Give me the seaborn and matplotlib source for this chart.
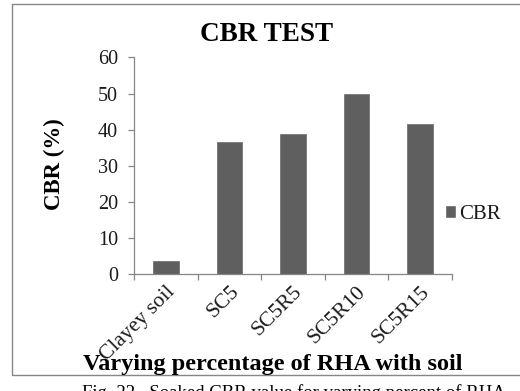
import matplotlib
matplotlib.use("Agg")
import matplotlib.pyplot as plt
from matplotlib.patches import Rectangle
from matplotlib.ticker import FixedLocator
import seaborn as sns
import pandas as pd

samples = ["Clayey soil", "SC5", "SC5R5", "SC5R10", "SC5R15"]
cbr_values = [3.6, 36.5, 38.7, 50.0, 41.7]
y_ticks = [0, 10, 20, 30, 40, 50, 60]

df = pd.DataFrame({"sample": samples, "CBR": cbr_values})

sns.set_theme(style="white")
plt.rcParams["font.family"] = ["Liberation Serif", "DejaVu Serif"]

bar_color = "#5f5f5f"
axis_color = "#868686"
text_color = "#1a1a1a"

fig = plt.figure(figsize=(5.2, 3.91), dpi=100)
ax = fig.add_axes([0.2577, 0.2992, 0.6115, 0.5538])

sns.barplot(data=df, x="sample", y="CBR", color=bar_color, width=0.4,
            saturation=1, edgecolor="#777777", linewidth=0.6,
            label="CBR", ax=ax)

ax.set_ylim(0, 60)
ax.set_xlim(-0.5, len(samples) - 0.5)
ax.set_yticks(y_ticks)
ax.set_yticklabels([str(t) for t in y_ticks], fontsize=14.5, color=text_color)
ax.set_xticks(range(len(samples)))
ax.set_xticklabels(samples, rotation=45, ha="right", rotation_mode="anchor",
                   fontsize=15.5, color=text_color)
ax.xaxis.set_minor_locator(FixedLocator([i - 0.5 for i in range(len(samples) + 1)]))
ax.tick_params(axis="x", which="major", length=0, pad=6)
ax.tick_params(axis="x", which="minor", length=4.5, width=0.9,
               color=axis_color, direction="out", bottom=True)
ax.tick_params(axis="y", which="major", length=4.5, width=0.9,
               color=axis_color, direction="out", left=True, pad=7)
ax.set_xlabel("")
ax.set_ylabel("")

for side in ["top", "right"]:
    ax.spines[side].set_visible(False)
for side in ["left", "bottom"]:
    ax.spines[side].set_color(axis_color)
    ax.spines[side].set_linewidth(0.9)

leg = ax.legend(loc="center left", bbox_to_anchor=(0.858, 0.452),
                bbox_transform=fig.transFigure, frameon=False, fontsize=15,
                handlelength=0.42, handleheight=0.42, handletextpad=0.2,
                borderpad=0, borderaxespad=0)
for t in leg.get_texts():
    t.set_color(text_color)

fig.text(0.512, 1 - 41 / 391, "CBR TEST", ha="center", va="baseline",
         fontsize=19.5, fontweight="bold", color="black")
fig.text(0.104, 1 - 164 / 391, "CBR (%)", ha="center", va="center",
         rotation=90, fontsize=16.5, fontweight="bold", color="black")
fig.text(0.525, 1 - 370 / 391, "Varying percentage of RHA with soil",
         ha="center", va="baseline", fontsize=17.5, fontweight="bold",
         color="black")
fig.text(0.565, 1 - 398 / 391, "Fig. 22.  Soaked CBR value for varying percent of RHA",
         ha="center", va="baseline", fontsize=13.5, color="black")

fig.patches.append(Rectangle((12 / 520, 1 - 375 / 391), 1.0, (375 - 4) / 391,
                             transform=fig.transFigure, fill=False,
                             edgecolor=axis_color, linewidth=1.0))

fig.savefig("out.png", dpi=100)
